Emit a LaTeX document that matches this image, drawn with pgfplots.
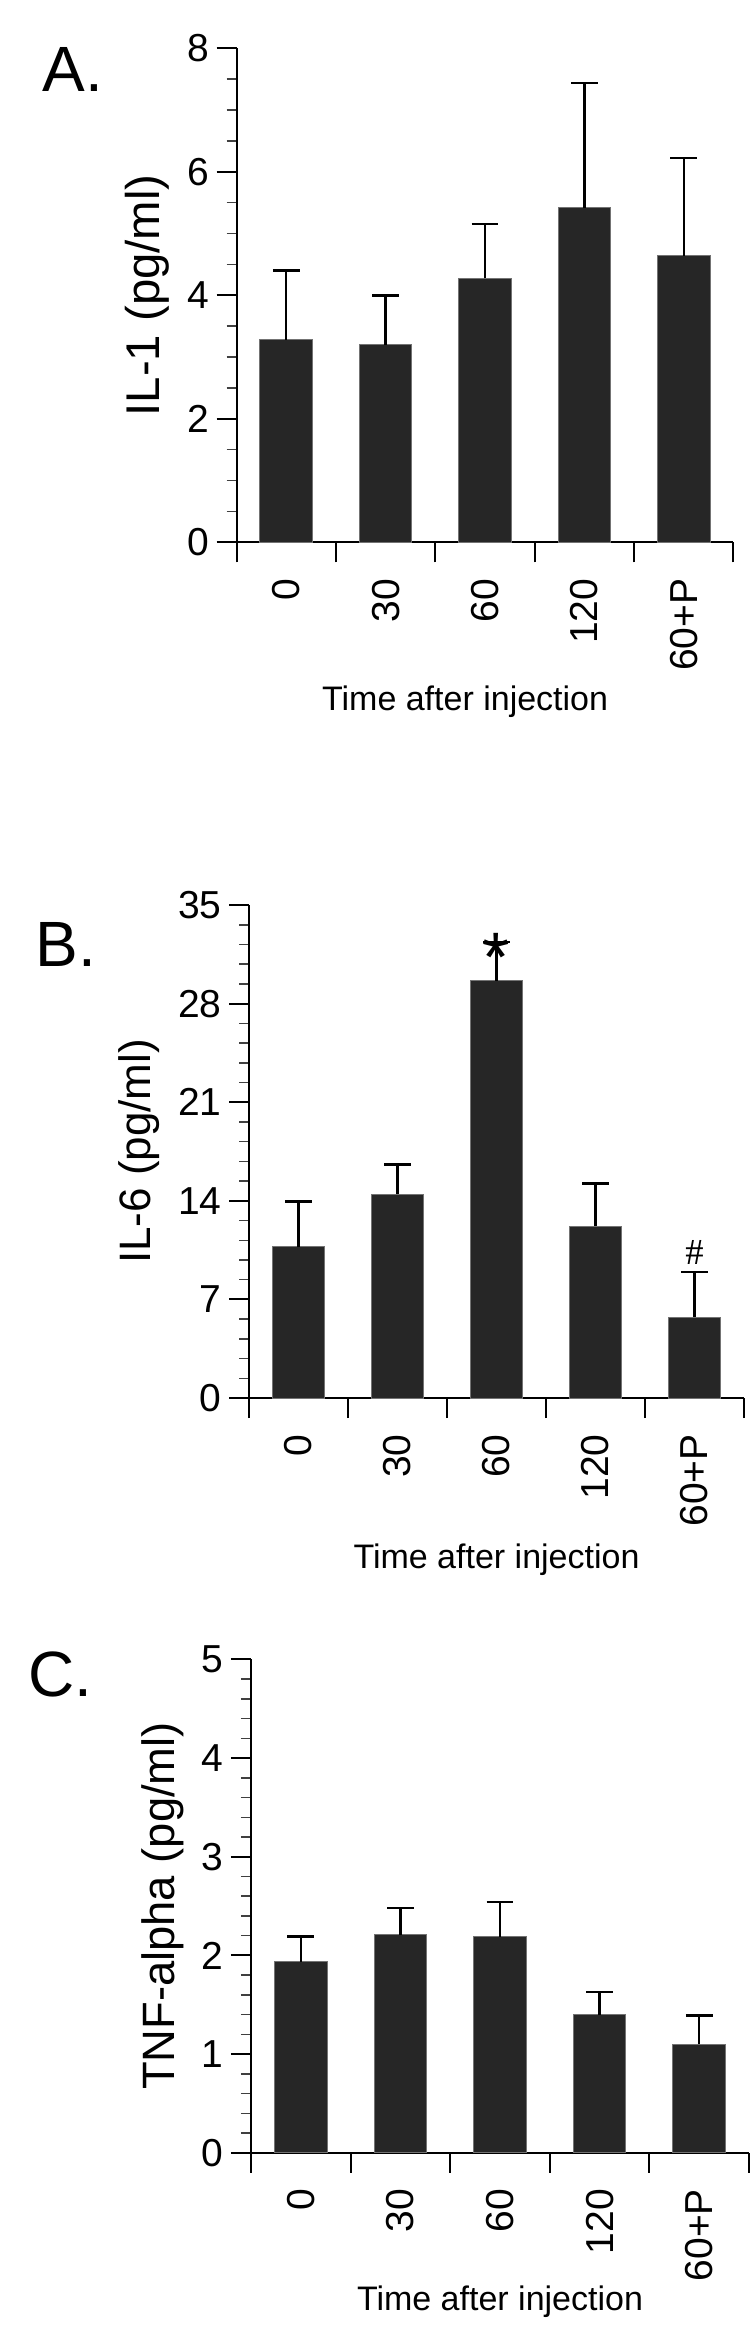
\documentclass[border=0pt]{standalone}
\usepackage{fontspec}
\setmainfont{Liberation Sans}
\newfontfamily\serif{Liberation Serif}
\usepackage{pgfplots}
\pgfplotsset{compat=1.18}
\definecolor{barc}{HTML}{262626}

\pgfplotsset{
  panel/.style={
    scale only axis, clip=false,
    axis x line*=bottom, axis y line*=left,
    axis line style={-, line width=0.6pt},
    tick align=outside,
    major tick length=6pt, minor tick length=3pt,
    every tick/.style={black, line width=0.6pt},
    every minor tick/.style={black!75, line width=0.45pt},
    xmin=0, xmax=5, ymin=0,
    xtick={0,1,2,3,4,5}, xticklabels={,,,,,},
    extra x ticks={0.5,1.5,2.5,3.5,4.5},
    extra x tick labels={0,30,60,120,60+P},
    extra x tick style={major tick length=0pt,
      tick label style={rotate=90, anchor=east, inner xsep=10.7pt, inner ysep=0pt}},
    tick label style={font=\fontsize{11.7}{14}\selectfont},
    yticklabel style={inner sep=2pt},
    /pgf/number format/assume math mode=true,
    xlabel={Time after injection},
    xlabel style={font=\fontsize{10.2}{12}\selectfont, anchor=base},
  },
  bars/.style={ybar, bar width=0.53, bar shift=0pt, fill=barc,
    draw=black!55, line width=0.3pt,
    error bars/.cd, y dir=plus, y explicit,
    error bar style={line width=0.7pt, black},
    error mark options={rotate=90, mark size=4pt, line width=0.75pt, black}},
}

\begin{document}
\begin{tikzpicture}
\useasboundingbox (0,0) rectangle (225pt,-699.6pt);

% A: IL-1
\begin{axis}[panel, at={(70.95pt,-162.69pt)}, anchor=south west,
    width=149.1pt, height=148.2pt,
    ymax=8, ytick={0,2,4,6,8}, minor y tick num=3,
    xlabel style={at={(axis description cs:0.46,0)}, yshift=-50.4pt},
    ylabel style={font=\fontsize{14.2}{16}\selectfont},
    ylabel={IL-1 (pg/ml)}]
  \addplot[bars] coordinates {
    (0.5,3.28) +- (0,1.12)
    (1.5,3.20) +- (0,0.80)
    (2.5,4.275) +- (0,0.88)
    (3.5,5.42) +- (0,2.02)
    (4.5,4.64) +- (0,1.58)};
\end{axis}

% B: IL-6
\begin{axis}[panel, at={(74.7pt,-419.4pt)}, anchor=south west,
    width=148.5pt, height=147.9pt,
    ymax=35, ytick={0,7,14,21,28,35}, minor y tick num=4,
    xlabel style={at={(axis description cs:0.5,0)}, yshift=-51pt},
    ylabel style={font=\fontsize{13.2}{15}\selectfont},
    ylabel={IL-6 (pg/ml)}]
  \addplot[bars] coordinates {
    (0.5,10.75) +- (0,3.22)
    (1.5,14.48) +- (0,2.10)
    (2.5,29.64) +- (0,2.72)
    (3.5,12.20) +- (0,3.04)
    (4.5,5.75) +- (0,3.20)};
  \node[font=\fontsize{21}{22}\selectfont, inner sep=0pt] at (axis cs:2.5,31.3) {*};
  \node[font=\serif\fontsize{11}{12}\selectfont, inner sep=0pt] at (axis cs:4.5,10.3) {\#};
\end{axis}

% C: TNF-alpha
\begin{axis}[panel, at={(75.3pt,-645.81pt)}, anchor=south west,
    width=149.4pt, height=148.0pt,
    ymax=5, ytick={0,1,2,3,4,5}, minor y tick num=4,
    xlabel style={at={(axis description cs:0.5,0)}, yshift=-47.4pt},
    ylabel style={font=\fontsize{13.6}{15}\selectfont},
    ylabel={TNF-alpha (pg/ml)}]
  \addplot[bars] coordinates {
    (0.5,1.935) +- (0,0.255)
    (1.5,2.21) +- (0,0.27)
    (2.5,2.19) +- (0,0.35)
    (3.5,1.40) +- (0,0.23)
    (4.5,1.10) +- (0,0.29)};
\end{axis}

\node[font=\fontsize{19.2}{22}\selectfont, anchor=base west, inner sep=0pt] at (12.6pt,-27.3pt) {A.};
\node[font=\fontsize{19.2}{22}\selectfont, anchor=base west, inner sep=0pt] at (10.5pt,-290pt) {B.};
\node[font=\fontsize{19.2}{22}\selectfont, anchor=base west, inner sep=0pt] at (8.4pt,-509pt) {C.};
\end{tikzpicture}
\end{document}
